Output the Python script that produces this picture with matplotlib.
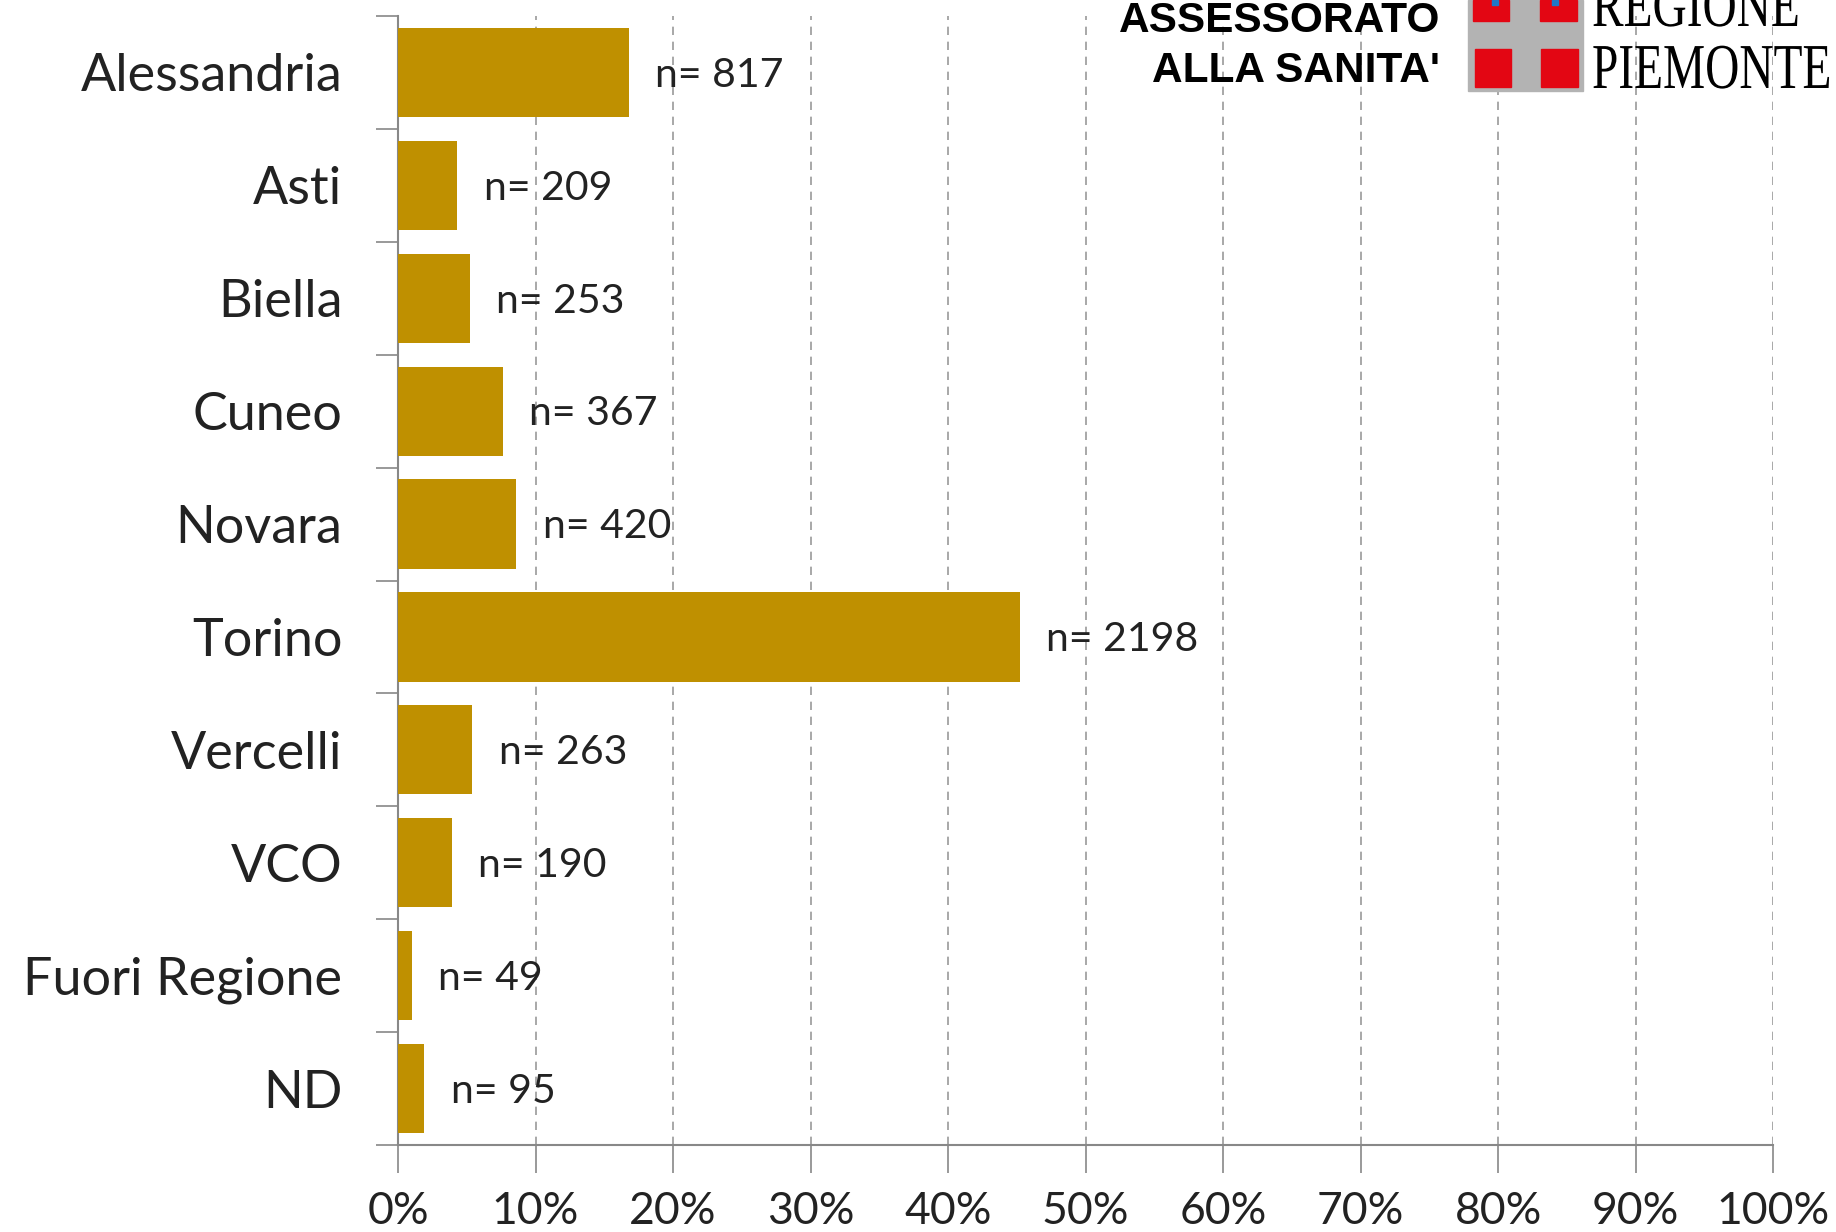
import matplotlib.pyplot as plt
from matplotlib.patches import Rectangle, PathPatch
from matplotlib.ticker import FixedLocator
from matplotlib.textpath import TextPath
from matplotlib.font_manager import FontProperties
from matplotlib.transforms import Affine2D

categories = ["Alessandria", "Asti", "Biella", "Cuneo", "Novara",
              "Torino", "Vercelli", "VCO", "Fuori Regione", "ND"]
percent = [16.8, 4.3, 5.2, 7.6, 8.6, 45.2, 5.4, 3.9, 1.0, 1.9]
counts = [817, 209, 253, 367, 420, 2198, 263, 190, 49, 95]
xticks = [0, 10, 20, 30, 40, 50, 60, 70, 80, 90, 100]

plt.rcParams['font.family'] = ['Lato', 'DejaVu Sans']

W, H = 1836, 1232
fig = plt.figure(figsize=(W / 100, H / 100), dpi=100)
ax = fig.add_axes([0.2168, 0.0706, 0.749, 0.9164])

y = list(range(len(categories)))
ax.barh(y, percent, height=0.79, color='#BF9000', zorder=3)

for yi, p, n in zip(y, percent, counts):
    ax.annotate("n= %d" % n, (p, yi), xytext=(19, -2), textcoords='offset points',
                va='center', ha='left', fontsize=29.5, color='#222222')

ax.set_xlim(0, 100)
ax.set_ylim(len(categories) - 0.5, -0.5)

ax.set_xticks(xticks)
ax.set_xticklabels(["%d%%" % v for v in xticks], fontsize=32, color='#222222')
ax.tick_params(axis='x', direction='out', length=20, width=1.2, color='#888888', pad=13)
ax.xaxis.grid(True, linestyle=(0, (5, 4)), color='#999999', linewidth=1.2, zorder=0)

ax.set_yticks(y)
ax.set_yticklabels(categories, fontsize=37.5, color='#222222')
ax.tick_params(axis='y', which='major', length=0, pad=40)
ax.yaxis.set_minor_locator(FixedLocator([i - 0.5 for i in range(len(categories) + 1)]))
ax.tick_params(axis='y', which='minor', direction='out', length=16, width=1.2, color='#888888')

for side in ['top', 'right']:
    ax.spines[side].set_visible(False)
for side in ['left', 'bottom']:
    ax.spines[side].set_color('#888888')
    ax.spines[side].set_linewidth(1.5)

# header logo
fig.text(1440 / W, 1 - 32 / H, "ASSESSORATO", ha='right', va='baseline',
         fontsize=30.5, fontweight='bold', family='Liberation Sans')
fig.text(1440 / W, 1 - 82 / H, "ALLA SANITA'", ha='right', va='baseline',
         fontsize=30.5, fontweight='bold', family='Liberation Sans')


def px(x0, y0, w, h, c):
    fig.patches.append(Rectangle((x0 / W, 1 - (y0 + h) / H), w / W, h / H,
                                 transform=fig.transFigure, color=c, zorder=5))


px(1468, 0, 115, 91, '#b3b3b3')
px(1473, 0, 36, 21, '#e30613')
px(1540, 0, 37, 21, '#e30613')
px(1475, 49, 36, 38, '#e30613')
px(1541, 49, 37, 38, '#e30613')
px(1492, 0, 6, 5, '#1f78c8')
px(1552, 0, 6, 5, '#1f78c8')

# condensed serif text, drawn in pixel coordinates
serif = FontProperties(family='Liberation Serif')
for word, base in [("REGIONE", 26), ("PIEMONTE", 88)]:
    tp = TextPath((0, 0), word, size=64, prop=serif)
    tr = Affine2D().scale(0.74, 1.0).translate(1592, H - base)
    fig.patches.append(PathPatch(tr.transform_path(tp), transform=None,
                                 color='black', lw=0, zorder=6))

fig.savefig('out.png', dpi=100)
